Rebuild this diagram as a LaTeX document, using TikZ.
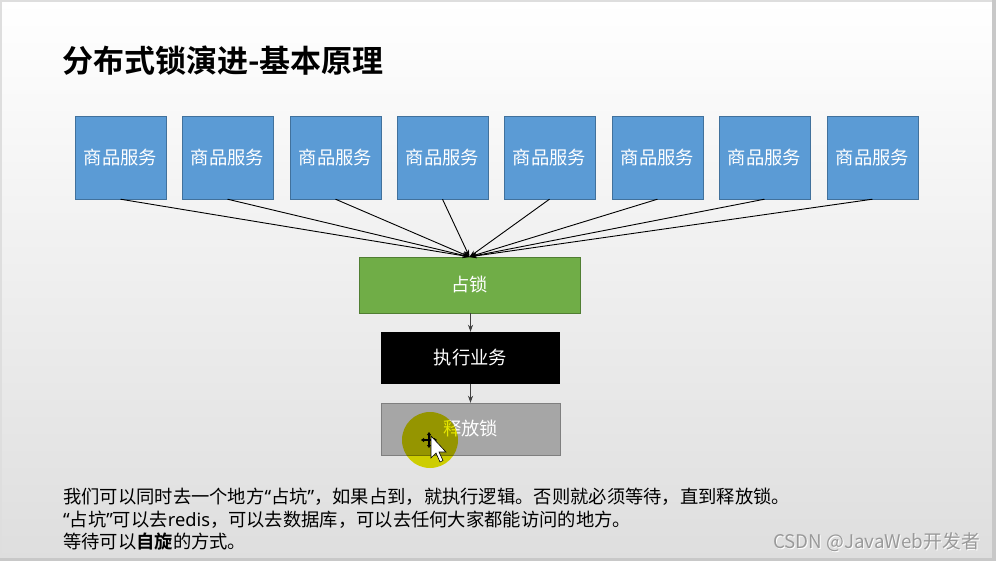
\documentclass[tikz,border=0pt]{standalone}
\usepackage{fontspec}
\newfontfamily\cjk[BoldFont={Noto Sans CJK SC Bold}]{Noto Sans CJK SC}
\newfontfamily\latin{Noto Sans}
\newcommand\lat[1]{{\latin #1}}
\usetikzlibrary{arrows.meta}
\definecolor{svcfill}{RGB}{91,155,213}
\definecolor{svcline}{RGB}{65,113,156}
\definecolor{lockfill}{RGB}{112,173,71}
\definecolor{lockline}{RGB}{80,126,50}
\definecolor{relfill}{RGB}{166,166,166}
\definecolor{relline}{RGB}{127,127,127}
\definecolor{bgbottom}{RGB}{222,222,222}
\definecolor{edgegray}{RGB}{200,200,200}
\definecolor{hilite}{RGB}{230,230,0}

\begin{document}
\begin{tikzpicture}[x=1pt,y=-1pt,
  svc/.style={draw=svcline, fill=svcfill, minimum width=91pt, minimum height=83pt, text=white, font=\cjk\fontsize{18.3}{18.3}\selectfont},
  flowbox/.style={minimum height=54pt, text=white, font=\cjk\fontsize{18.3}{18.3}\selectfont},
  conn/.style={draw=black, line width=0.9pt, -{Stealth[length=7pt,width=5pt]}},
  link/.style={draw=black!75, line width=0.9pt, -{Stealth[length=7pt,width=5pt]}},
  note/.style={anchor=west, inner sep=0pt, font=\cjk\fontsize{18.3}{18.3}\selectfont}]
\useasboundingbox (0,0) rectangle (996,561);
\shade[top color=white, bottom color=bgbottom] (0,0) rectangle (996,561);
\draw[edgegray!60, line width=1.5pt] (0,1) -- (996,1);
\draw[edgegray!60, line width=1.5pt] (1,0) -- (1,561);
\fill[edgegray] (992,0) rectangle (996,561);
\fill[edgegray] (0,558) rectangle (996,561);

\node[anchor=west, inner sep=0pt, font=\cjk\bfseries\fontsize{31}{31}\selectfont] (title) at (62,61) {分布式锁演进-基本原理};

\foreach \i/\x in {1/120.5,2/227.5,3/335.5,4/442.5,5/549.5,6/657.5,7/764.5,8/872.5}
  \node[svc] (s\i) at (\x,157.5) {商品服务};

\node[flowbox, draw=lockline, fill=lockfill, minimum width=221pt, minimum height=56pt] (lock) at (469.5,285) {占锁};
\node[flowbox, fill=black, minimum width=179pt, minimum height=52pt] (work) at (470.5,358) {执行业务};
\node[flowbox, draw=relline, fill=relfill, minimum width=179pt, minimum height=52pt] (release) at (470.5,429) {释放锁};

\foreach \i in {1,...,8}
  \draw[conn] (s\i.south) -- (lock.north);
\draw[link] (lock.south -| work.north) -- (work.north);
\draw[link] (work.south) -- (release.north);

\begin{scope}[blend mode=multiply]
  \fill[hilite] (430,440) circle (28);
\end{scope}
% cursor
\draw[line width=1.2pt, {Triangle[length=3pt,width=4pt]}-{Triangle[length=3pt,width=4pt]}] (421,440) -- (437,440);
\draw[line width=1.2pt, {Triangle[length=3pt,width=4pt]}-{Triangle[length=3pt,width=4pt]}] (429,432) -- (429,448);
\draw[fill=white, line width=0.6pt] (431,436) -- (431,458) -- (436,453) -- (440,462) -- (443,460.5) -- (439,452) -- (446,452) -- cycle;

\node[note] (line1) at (63,497) {我们可以同时去一个地方\lat{“}占坑\lat{”}，如果占到，就执行逻辑。否则就必须等待，直到释放锁。};
\node[note] (line2) at (63,520) {\lat{“}占坑\lat{”}可以去\lat{redis}，可以去数据库，可以去任何大家都能访问的地方。};
\node[note] (line3) at (63,542) {等待可以\textbf{自旋}的方式。};

\node[anchor=east, inner sep=0pt, text=white, font=\cjk\fontsize{18.8}{18.8}\selectfont] at (981,543) {CSDN @JavaWeb开发者};
\node[anchor=east, inner sep=0pt, text=black!40, font=\cjk\fontsize{18.8}{18.8}\selectfont] (mark) at (980,542) {CSDN @JavaWeb开发者};
\end{tikzpicture}
\end{document}
